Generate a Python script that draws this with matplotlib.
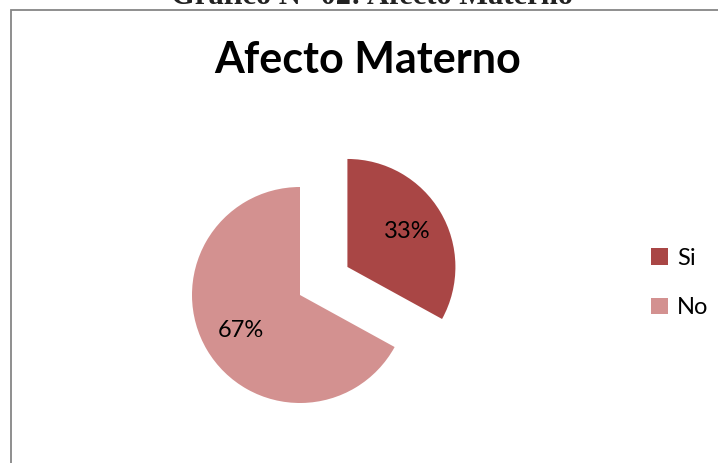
import matplotlib
matplotlib.use("Agg")
import matplotlib.pyplot as plt
from matplotlib.patches import Rectangle, Patch

# datos del gráfico
categorias = ["Si", "No"]
porcentajes = [33, 67]
colores = ["#A94645", "#D39190"]
separacion = [0.51, 0]

titulo = "Afecto Materno"
encabezado = "Gráfico N° 02: Afecto Materno"

W, H = 718, 463
fig = plt.figure(figsize=(W / 100, H / 100), dpi=100)
fig.patch.set_facecolor("white")

# encabezado del documento (cortado por arriba)
fig.text(372 / W, 1 - 4.5 / H, encabezado, ha="center", va="baseline",
         fontsize=22, fontweight="bold", family="Liberation Serif", color="#222222")

# marco del área del gráfico
fig.patches.append(Rectangle((10.5 / W, -0.1), 1.2, 1 - 10.5 / H + 0.1,
                             transform=fig.transFigure, fill=False,
                             edgecolor="#868686", linewidth=1.3))

fig.text(368 / W, 1 - 73 / H, titulo, ha="center", va="baseline",
         fontsize=31, fontweight="bold", family="Lato")

# ejes del pastel: radio 1 = 108 px, centro en (300, 295)
r = 108
cx, cy = 300, 295
ax = fig.add_axes([(cx - 2 * r) / W, (H - cy - 2 * r) / H, 4 * r / W, 4 * r / H])

wedges, textos, autotextos = ax.pie(
    porcentajes, explode=separacion, colors=colores, startangle=90,
    counterclock=False, radius=1, autopct=lambda p: f"{p:.0f}%",
    pctdistance=0.64, wedgeprops=dict(linewidth=0))
ax.set_xlim(-2, 2)
ax.set_ylim(-2, 2)
ax.set_aspect("equal")
ax.axis("off")
for t in autotextos:
    t.set_fontsize(17)
    t.set_family("Lato")
    t.set_color("black")

handles = [Patch(facecolor=c, edgecolor="none") for c in colores]
fig.legend(handles, categorias, loc="center left",
           bbox_to_anchor=(651 / W, 1 - 283 / H), frameon=False,
           borderpad=0, borderaxespad=0,
           prop=dict(family="Lato", size=17), handlelength=0.7,
           handleheight=0.7, handletextpad=0.4, labelspacing=1.2)

fig.savefig("out.png", dpi=100, facecolor="white")
